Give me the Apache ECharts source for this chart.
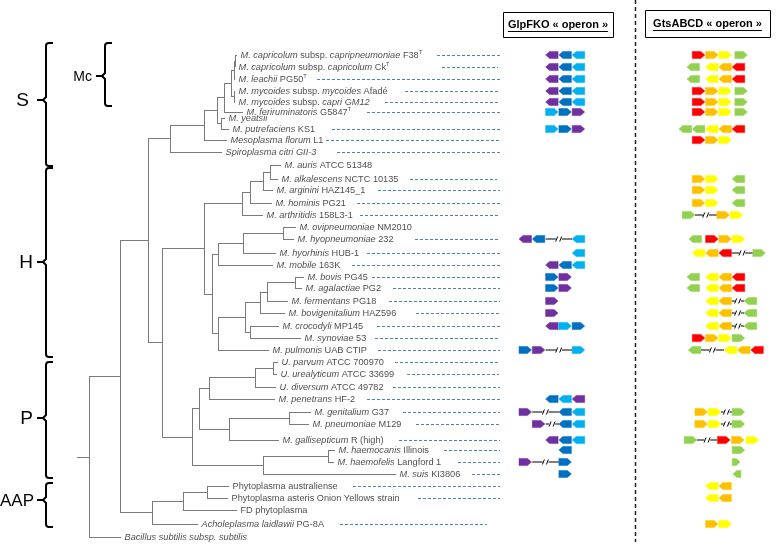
<!DOCTYPE html>
<html><head><meta charset="utf-8">
<script src="https://cdn.jsdelivr.net/npm/echarts@6/dist/echarts.min.js"></script>
<style>html,body{margin:0;padding:0;background:#fff}#c{width:777px;height:545px}</style>
</head><body><div id="c"></div><script>
// ---------------- DATA ----------------
const taxa = [
 "{i|M. capricolum} subsp. {i|capripneumoniae} F38{s|T}",
 "{i|M. capricolum} subsp. {i|capricolum} Ck{s|T}",
 "{i|M. leachii} PG50{s|T}",
 "{i|M. mycoides} subsp. {i|mycoides} Afadé",
 "{i|M. mycoides} subsp. {i|capri GM12}",
 "{i|M. feriruminatoris} G5847{s|T}",
 "{i|M. yeatsii}",
 "{i|M. putrefaciens} KS1",
 "{i|Mesoplasma florum} L1",
 "{i|Spiroplasma citri GII-3}",
 "{i|M. auris} ATCC 51348",
 "{i|M. alkalescens} NCTC 10135",
 "{i|M. arginini} HAZ145_1",
 "{i|M. hominis} PG21",
 "{i|M. arthritidis} 158L3-1",
 "{i|M. ovipneumoniae} NM2010",
 "{i|M. hyopneumoniae} 232",
 "{i|M. hyorhinis} HUB-1",
 "{i|M. mobile} 163K",
 "{i|M. bovis} PG45",
 "{i|M. agalactiae} PG2",
 "{i|M. fermentans} PG18",
 "{i|M. bovigenitalium} HAZ596",
 "{i|M. crocodyli} MP145",
 "{i|M. synoviae} 53",
 "{i|M. pulmonis} UAB CTIP",
 "{i|U. parvum} ATCC 700970",
 "{i|U. urealyticum} ATCC 33699",
 "{i|U. diversum} ATCC 49782",
 "{i|M. penetrans} HF-2",
 "{i|M. genitalium} G37",
 "{i|M. pneumoniae} M129",
 "{i|M. gallisepticum} R (high)",
 "{i|M. haemocanis} Illinois",
 "{i|M. haemofelis} Langford 1",
 "{i|M. suis} KI3806",
 "Phytoplasma australiense",
 "Phytoplasma asteris Onion Yellows strain",
 "FD phytoplasma",
 "{i|Acholeplasma laidlawii} PG-8A",
 "{i|Bacillus subtilis subsp. subtilis}"
];
// leaf row position (vertical value) and branch tip depth (horizontal value)
const rowY = [55,67,79,91,102,112,118,129,140,152,165,179,190,203,215,227,239,253,265,277,288,301,313,326,338,350,362,374,387,399,412,424,440,450,462,474,486,498,510,524,537];
const tipX = [237,235,235,235,235,243,225,229,227,222,281,278,273,272,263,296,294,276,273,304,302,288,285,279,301,269,278,277,276,275,311,309,279,335,334,396,229,228,237,198,121];
// internal nodes: [depth, childA, childB]; numbers are leaf indices
const cladeS = [170,[204,[217,[224,[231,[234,[235,0,1],2],[234,3,4]],5],[221,6,7]],8],9];
const cladeH = [204,[242,[250,[263,[270,10,11],12],13],14],[212,[218,[243,[283,15,16],17],18],[218,[245,[260,[267,[295,19,20],21],22],[250,23,24]],25]]];
const cladeP = [192,[199,[209,[255,[273,26,27],28],29],[229,[289,30,31],32]],[263,[328,33,34],35]];
const cladeAAP = [152,[183,[207,36,37],38],39];
const tree = [89,[120,[148,cladeS,[162,cladeH,cladeP]],cladeAAP],40];
const rootStart = 77;
// dashed leader lines (start, end); null = none
const dashFrom = [437,442,317,405,385,367,null,332,326,337,null,410,378,357,360,null,415,367,352,372,393,389,416,377,375,378,395,407,393,367,403,416,399,444,458,472,353,418,null,340,null];
const dashTo   = [500,498,500,500,500,500,null,500,500,500,null,497,500,500,500,null,500,500,500,500,500,500,500,500,500,500,500,499,500,500,500,500,500,500,500,500,500,500,null,487,null];
// GlpFKO operon: [slot, gene+direction] or [from, to, '//']
const glpOperon = [
 [[2,'P<'],[3,'B<'],[4,'L<']],[[2,'P<'],[3,'B<'],[4,'L<']],[[2,'P<'],[3,'B<'],[4,'L<']],
 [[2,'P<'],[3,'B<'],[4,'L<']],[[2,'P<'],[3,'B<'],[4,'L<']],[[2,'L>'],[3,'B>'],[4,'P>']],
 null,[[2,'L>'],[3,'B>'],[4,'P>']],null,null,
 null,null,null,null,null,null,
 [[0,'P<'],[1,'B<'],[2,4,'//'],[4,'L<']],[[4,'L<']],[[2,'P<'],[3,'B<'],[4,'L<']],
 [[2,'B>'],[3,'P>']],[[2,'B>'],[3,'P>']],[[2,'P>']],[[2,'P>']],[[2,'P<'],[3,'L>'],[4,'B>']],null,
 [[0,'B>'],[1,'P>'],[2,4,'//'],[4,'L>']],
 null,null,null,[[2,'B<'],[3,'L<'],[4,'P<']],
 [[0,'P>'],[1,3,'//'],[3,'B<'],[4,'L<']],[[1,'P>'],[2,3,'//'],[3,'B<'],[4,'L<']],
 [[2,'P<'],[3,'B<'],[4,'L<']],[[3,'B<']],[[0,'P>'],[1,3,'//'],[3,'B>']],[[3,'B>']],
 null,null,null,null,null
];
// GtsABCD operon
const gtsOperon = [
 [[1,'R>'],[2,'O>'],[3,'Y>'],[4.2,'G>']],
 [[0.6,'G<'],[2,'Y<'],[3,'O<'],[4,'R<']],
 [[0.6,'G<'],[2,'Y<'],[3,'O<'],[4,'R<']],
 [[1,'R>'],[2,'O>'],[3,'Y>'],[4.2,'G>']],
 [[1,'R>'],[2,'O>'],[3,'Y>'],[4.2,'G>']],
 [[1,'R>'],[2,'O>'],[3,'Y>'],[4.2,'G>']],
 null,
 [[0,'G<'],[1,'G<'],[2,'Y<'],[3,'O<'],[4,'R<']],
 [[1,'R>'],[2,'O>'],[3,'Y>']],
 null,
 null,
 [[1,'O>'],[2,'Y>'],[4,'G<']],
 [[1,'O>'],[2,'Y>'],[4,'G<']],
 [[1,'O>'],[2,'Y>'],[4,'G<']],
 [[0.25,'G>'],[1.2,2.85,'//'],[2.85,'O>'],[3.85,'Y>']],
 null,
 [[0.75,'G<'],[2,'R>'],[3,'O>'],[4,'Y>']],
 [[1,'Y<'],[2,'O<'],[3,'R<'],[3.95,5.55,'//'],[5.55,'G>']],
 null,
 [[0.6,'G<'],[2,'Y<'],[3,'O<'],[4,'R<']],
 [[0.6,'G<'],[2,'Y<'],[3,'O<'],[4,'R<']],
 [[2,'Y<'],[3,'O<'],[3.95,4.9,'//'],[4.9,'G<']],
 [[2,'Y<'],[3,'O<'],[3.95,4.9,'//'],[4.9,'G<']],
 [[2,'Y<'],[3,'O<'],[3.95,4.9,'//'],[4.9,'G<']],
 [[1,'R>'],[2,'O>'],[3,'Y>'],[4,'G>']],
 [[0.7,'G<'],[1.65,3.4,'//'],[3.4,'Y<'],[4.4,'O<'],[5.4,'R<']],
 null,null,null,null,
 [[1.2,'O>'],[2.2,'Y>'],[3.15,4,'//'],[4,'G>']],
 [[1.2,'O>'],[2.2,'Y>'],[3.15,4,'//'],[4,'G>']],
 [[0.4,'G>'],[1.35,2.9,'//'],[2.9,'R>'],[3.95,'O>'],[5.05,'Y>']],
 [[4,'G>']],
 [[4,'g>']],
 [[4.05,'g<']],
 [[2,'Y<'],[3,'O<']],
 [[2,'Y<'],[3,'O<']],
 null,
 [[2,'O>'],[3,'Y>']],
 null
];
const cladeNames  = ['S','Mc','H','P','AAP'];
const cladeTop    = [43,43,168,362,483];
const cladeBottom = [166,106,357,478,527];
const cladeMid    = [100,76,262,418,500];
const cladeAt     = [46,105,46,46,46];
const headers = ['GlpFKO « operon »','GtsABCD « operon »'];

// ---------------- LAYOUT HELPERS ----------------
const GENE_COLORS = {P:'#7030a0',B:'#0070c0',L:'#00b0f0',R:'#ff0000',O:'#ffc000',Y:'#ffff00',G:'#92d050'};
const UNIT = 13.3, GLP_ORIGIN = 519, GTS_ORIGIN = 679;
const FONT = '"Liberation Sans", Arial, sans-serif';
const TEXT_COLOR = '#1a1a1a';

const treeSegs = [];
function layoutNode(node) {
  if (typeof node === 'number') return rowY[node];
  const x = node[0];
  const ys = [node[1], node[2]].map(ch => {
    const y = layoutNode(ch);
    const cx = typeof ch === 'number' ? tipX[ch] : ch[0];
    treeSegs.push([[x, y], [cx, y]]);
    return y;
  });
  treeSegs.push([[x, ys[0]], [x, ys[1]]]);
  return (ys[0] + ys[1]) / 2;
}
const rootY = layoutNode(tree);
treeSegs.push([[rootStart, rootY], [tree[0], rootY]]);

const dashSegs = [];
dashFrom.forEach((f, i) => { if (f != null) dashSegs.push([[f, rowY[i]], [dashTo[i], rowY[i]]]); });

const geneItems = [], breakItems = [];
function collect(rows, origin) {
  rows.forEach((row, i) => {
    if (!row) return;
    row.forEach(t => {
      if (t.length === 3) {
        breakItems.push([origin + t[0] * UNIT, origin + t[1] * UNIT, rowY[i]]);
      } else {
        const code = t[1][0];
        const small = code === 'g';
        const w = small ? 0.6 : 0.94;
        geneItems.push([origin + t[0] * UNIT, origin + (t[0] + w) * UNIT, rowY[i], code.toUpperCase(), t[1][1]]);
      }
    });
  });
}
collect(glpOperon, GLP_ORIGIN);
collect(gtsOperon, GTS_ORIGIN);

// ---------------- CHART ----------------
const chart = echarts.init(document.getElementById('c'), null, {renderer: 'canvas'});
const LS = 9.2;
const rich = {
  n: {fontFamily: FONT, fontSize: LS, color: TEXT_COLOR, lineHeight: 11},
  i: {fontFamily: FONT, fontSize: LS, color: TEXT_COLOR, fontStyle: 'italic', lineHeight: 11},
  s: {fontFamily: FONT, fontSize: 5.8, color: TEXT_COLOR, lineHeight: 11, verticalAlign: 'top'}
};
const measureCtx = document.createElement('canvas').getContext('2d');
function textW(t, font) { measureCtx.font = font; return measureCtx.measureText(t).width; }
const hdrFont = 'bold 11px ' + FONT;
const boxes = [[503, 12, 110, 25], [645, 10, 125, 27]];
const graphic = [];
headers.forEach((h, k) => {
  const [bx, by, bw, bh] = boxes[k];
  const cx = bx + bw / 2, cy = by + bh / 2;
  const w = textW(h, hdrFont);
  graphic.push({type: 'rect', shape: {x: bx + 0.5, y: by + 0.5, width: bw, height: bh}, style: {fill: '#fff', stroke: '#000', lineWidth: 1}});
  graphic.push({type: 'text', x: cx, y: cy, style: {text: h, font: hdrFont, fill: '#000', align: 'center', verticalAlign: 'middle'}});
  graphic.push({type: 'line', shape: {x1: cx - w / 2, y1: cy + 7, x2: cx + w / 2, y2: cy + 7}, style: {stroke: '#000', lineWidth: 1}});
});
graphic.push({type: 'line', shape: {x1: 635.5, y1: 0, x2: 635.5, y2: 542}, style: {stroke: '#222', lineWidth: 1.5, lineDash: [4, 3]}});

chart.setOption({
  animation: false,
  grid: {left: 0, right: 0, top: 0, bottom: 0},
  xAxis: {type: 'value', min: 0, max: 777, show: false},
  yAxis: {type: 'value', min: 0, max: 545, inverse: true, show: false},
  graphic: graphic,
  series: [
    {type: 'lines', coordinateSystem: 'cartesian2d', silent: true, z: 2,
     lineStyle: {color: '#7a7a7a', width: 1, opacity: 1},
     data: treeSegs.map(c => ({coords: c}))},
    {type: 'lines', coordinateSystem: 'cartesian2d', silent: true, z: 2,
     lineStyle: {color: '#4f81bd', width: 1, opacity: 1, type: [3, 2]},
     data: dashSegs.map(c => ({coords: c}))},
    {type: 'scatter', silent: true, z: 3, symbolSize: 1, itemStyle: {color: 'transparent'},
     data: rowY.map((y, i) => [tipX[i], y]),
     label: {show: true, position: 'right', distance: 3, formatter: p => '{n|' + taxa[p.dataIndex].replace(/\{(i|s)\|([^}]*)\}/g, '}{$1|$2}{n|') + '}', rich: rich}},
    {type: 'custom', silent: true, z: 4, data: geneItems,
     renderItem: (params, api) => {
       const a = api.coord([api.value(0), api.value(2)]);
       const b = api.coord([api.value(1), api.value(2)]);
       const color = GENE_COLORS[geneItems[params.dataIndex][3]];
       const dir = geneItems[params.dataIndex][4];
       const h = 3.6, tip = 4, y = a[1];
       const pts = dir === '>'
         ? [[a[0], y - h], [b[0] - tip, y - h], [b[0], y], [b[0] - tip, y + h], [a[0], y + h]]
         : [[a[0], y], [a[0] + tip, y - h], [b[0], y - h], [b[0], y + h], [a[0] + tip, y + h]];
       return {type: 'polygon', shape: {points: pts}, style: {fill: color, stroke: color, lineWidth: 0.5}};
     }},
    {type: 'custom', silent: true, z: 3, data: breakItems,
     renderItem: (params, api) => {
       const a = api.coord([api.value(0), api.value(2)]);
       const b = api.coord([api.value(1), api.value(2)]);
       const m = (a[0] + b[0]) / 2, y = a[1];
       return {type: 'group', children: [
         {type: 'line', shape: {x1: a[0], y1: y, x2: b[0], y2: y}, style: {stroke: '#000', lineWidth: 1}},
         {type: 'rect', shape: {x: m - 3, y: y - 1, width: 6, height: 2}, style: {fill: '#fff'}},
         {type: 'line', shape: {x1: m - 3.2, y1: y + 2.5, x2: m - 1.2, y2: y - 2.5}, style: {stroke: '#000', lineWidth: 1}},
         {type: 'line', shape: {x1: m + 0.8, y1: y + 2.5, x2: m + 2.8, y2: y - 2.5}, style: {stroke: '#000', lineWidth: 1}}
       ]};
     }},
    {type: 'custom', silent: true, z: 4, data: cladeNames.map((n, i) => [cladeAt[i], cladeMid[i]]),
     renderItem: (params, api) => {
       const i = params.dataIndex;
       const x = api.coord([cladeAt[i], 0])[0];
       const top = api.coord([0, cladeTop[i]])[1];
       const bot = api.coord([0, cladeBottom[i]])[1];
       const mid = api.coord([0, cladeMid[i]])[1];
       const hook = 7, r = 3, n = 3;
       const d = `M${x + hook},${top} L${x + r},${top} Q${x},${top} ${x},${top + r} L${x},${mid - n} L${x - n},${mid} L${x},${mid + n} L${x},${bot - r} Q${x},${bot} ${x + r},${bot} L${x + hook},${bot} M${x - n},${mid} L${x - 9},${mid}`;
       const name = cladeNames[i];
       const size = name === 'Mc' ? 14 : (name === 'AAP' ? 17 : 19);
       const gap = name === 'S' ? 17 : (name === 'AAP' ? 12 : 13);
       return {type: 'group', children: [
         {type: 'path', shape: {pathData: d}, style: {fill: null, stroke: '#000', lineWidth: 2}},
         {type: 'text', x: x - gap, y: mid + 1, style: {text: name, font: size + 'px ' + FONT, fill: '#000', align: 'right', verticalAlign: 'middle'}}
       ]};
     }}
  ]
});
</script></body></html>
